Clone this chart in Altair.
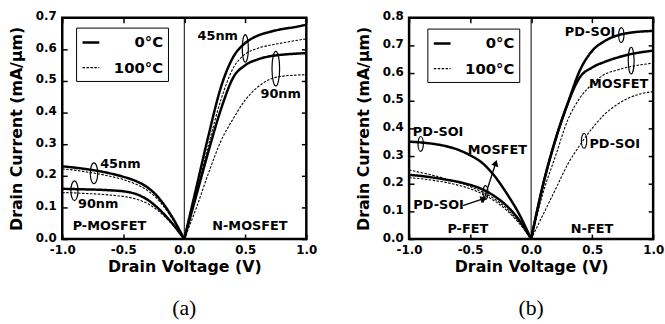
import altair as alt
import pandas as pd

FONT = "DejaVu Sans"
SERIF = "Liberation Serif"

# ---------------- data ----------------
V_P = [-1.0, -0.9, -0.8, -0.7, -0.6, -0.5, -0.4, -0.3, -0.2, -0.1, 0.0]
V_N = [0.0, 0.1, 0.2, 0.3, 0.4, 0.5, 0.6, 0.7, 0.8, 0.9, 1.0]
TEMPS = ["0°C", "100°C"]
X_TICKS = [-1.0, -0.5, 0.0, 0.5, 1.0]
A_Y_TICKS = [0.0, 0.1, 0.2, 0.3, 0.4, 0.5, 0.6, 0.7]
B_Y_TICKS = [0.0, 0.1, 0.2, 0.3, 0.4, 0.5, 0.6, 0.7, 0.8]

# panel (a): 45nm / 90nm bulk MOSFETs
A_P45_0 = [0.230, 0.226, 0.221, 0.215, 0.207, 0.197, 0.184, 0.163, 0.126, 0.070, 0.0]
A_P45_100 = [0.222, 0.218, 0.212, 0.206, 0.198, 0.188, 0.174, 0.153, 0.118, 0.065, 0.0]
A_P90_0 = [0.159, 0.158, 0.157, 0.156, 0.154, 0.151, 0.143, 0.124, 0.092, 0.050, 0.0]
A_P90_100 = [0.147, 0.146, 0.144, 0.142, 0.139, 0.135, 0.127, 0.112, 0.085, 0.047, 0.0]
A_N45_0 = [0.0, 0.165, 0.33, 0.48, 0.575, 0.62, 0.643, 0.655, 0.664, 0.670, 0.678]
A_N45_100 = [0.0, 0.15, 0.30, 0.44, 0.54, 0.585, 0.603, 0.613, 0.620, 0.627, 0.633]
A_N90_0 = [0.0, 0.14, 0.28, 0.41, 0.51, 0.55, 0.568, 0.578, 0.583, 0.586, 0.588]
A_N90_100 = [0.0, 0.10, 0.21, 0.31, 0.38, 0.44, 0.48, 0.505, 0.515, 0.518, 0.520]

# panel (b): PD-SOI vs MOSFET
B_P_SOI_0 = [0.352, 0.349, 0.344, 0.336, 0.323, 0.303, 0.275, 0.228, 0.165, 0.092, 0.0]
B_P_MOS_0 = [0.232, 0.228, 0.222, 0.215, 0.207, 0.196, 0.180, 0.155, 0.120, 0.070, 0.0]
B_P_MOS_100 = [0.250, 0.240, 0.230, 0.218, 0.205, 0.190, 0.170, 0.145, 0.110, 0.062, 0.0]
B_P_SOI_100 = [0.222, 0.218, 0.212, 0.205, 0.195, 0.182, 0.163, 0.138, 0.104, 0.058, 0.0]
B_N_SOI_0 = [0.0, 0.20, 0.36, 0.49, 0.61, 0.68, 0.715, 0.735, 0.745, 0.750, 0.752]
B_N_MOS_0 = [0.0, 0.20, 0.36, 0.49, 0.585, 0.62, 0.640, 0.655, 0.667, 0.675, 0.681]
B_N_MOS_100 = [0.0, 0.17, 0.30, 0.43, 0.51, 0.56, 0.595, 0.610, 0.622, 0.630, 0.636]
B_N_SOI_100 = [0.0, 0.09, 0.18, 0.27, 0.34, 0.40, 0.450, 0.485, 0.510, 0.525, 0.533]

# annotations (a)
A_TXT = ["45nm", "90nm", "45nm", "90nm", "P-MOSFET", "N-MOSFET"]
A_TXT_X = [0.274, 0.79, -0.524, -0.706, -0.613, 0.538]
A_TXT_Y = [0.641, 0.459, 0.238, 0.110, 0.040, 0.040]
A_ELL_X = [0.50, 0.75, -0.74, -0.90]
A_ELL_Y = [0.603, 0.539, 0.208, 0.153]
A_ELL_H = [28, 35, 21, 20]
A_ELL_K = ["n", "n", "w", "w"]

# annotations (b)
B_TXT = ["PD-SOI", "MOSFET", "PD-SOI", "N-FET", "P-FET", "PD-SOI", "MOSFET", "PD-SOI"]
B_TXT_X = [0.483, 0.717, 0.685, 0.499, -0.519, -0.762, -0.277, -0.758]
B_TXT_Y = [0.748, 0.561, 0.344, 0.035, 0.035, 0.388, 0.3225, 0.1225]
B_ELL_X = [0.739, 0.82, 0.434, -0.905, -0.374]
B_ELL_Y = [0.7375, 0.645, 0.355, 0.344, 0.168]
B_ELL_H = [15, 27, 15, 15, 14]
B_ELL_K = ["w", "n", "w", "w", "w"]
B_ARR_X = [-0.394, -0.559]
B_ARR_Y = [0.132, 0.121]
B_ARR_X2 = [-0.29, -0.389]
B_ARR_Y2 = [0.275, 0.146]
B_ARR_ANG = [18, 72]

# ---------------- helpers ----------------
ELL_N = "M 0,-1 A 0.22,1 0 1,1 0,1 A 0.22,1 0 1,1 0,-1 Z"
ELL_W = "M 0,-1 A 0.36,1 0 1,1 0,1 A 0.36,1 0 1,1 0,-1 Z"
LABEL_EXPR = "replace(format(datum.value, '.1f'), '\u2212', '-')"


def lines_df(series):
    rows = []
    for name, temp, xs, ys in series:
        for v, i in zip(xs, ys):
            rows.append({"series": name, "temp": temp, "V": v, "I": i})
    return pd.DataFrame(rows)


def panel(series, txt, txt_x, txt_y, ell_x, ell_y, ell_h, ell_k, ymax, yticks,
          leg_x, leg_y, caption, arrows=None):
    xs = alt.Scale(domain=[-1, 1], nice=False, zero=False)
    ys = alt.Scale(domain=[0, ymax], nice=False)
    legend = alt.Legend(
        orient="none", legendX=leg_x, legendY=leg_y, title=None,
        direction="vertical", strokeColor="black", fillColor="white",
        padding=5, rowPadding=8, symbolType="stroke", symbolSize=289,
        symbolStrokeColor="black", labelFont=FONT, labelFontSize=15,
        labelFontWeight="bold", labelColor="black", labelOffset=63,
        labelAlign="right",
    )
    lines = alt.Chart(lines_df(series)).mark_line(
        interpolate="monotone", color="black"
    ).encode(
        x=alt.X("V:Q", scale=xs, axis=alt.Axis(
            orient="bottom", values=X_TICKS, offset=-5, tickSize=5,
            domain=False, grid=False, labelExpr=LABEL_EXPR, labelPadding=5.5,
            labelFlush=False, title="Drain Voltage (V)", titlePadding=3)),
        y=alt.Y("I:Q", scale=ys, axis=alt.Axis(
            orient="left", values=yticks, offset=-5, tickSize=5,
            domain=False, grid=False, format=".1f", labelPadding=6,
            labelOffset=-2,
            labelFlush=False, title="Drain Current (mA/μm)", titlePadding=11)),
        detail="series:N",
        strokeDash=alt.StrokeDash("temp:N", scale=alt.Scale(
            domain=TEMPS, range=[[1, 0], [2.5, 1.5]]), legend=legend),
        strokeWidth=alt.StrokeWidth("temp:N", scale=alt.Scale(
            domain=TEMPS, range=[2.5, 1.1]), legend=legend),
    )
    zero = alt.Chart(pd.DataFrame({"V": [0.0]})).mark_rule(
        color="black", strokeWidth=1
    ).encode(
        x=alt.X("V:Q", scale=xs, axis=alt.Axis(
            orient="top", values=X_TICKS, offset=-5, tickSize=5,
            domain=False, grid=False, labels=False, title=None)),
    )
    text = alt.Chart(pd.DataFrame({"t": txt, "x": txt_x, "y": txt_y})).mark_text(
        font=FONT, fontWeight="bold", fontSize=13, color="black",
        align="center", baseline="middle"
    ).encode(
        x=alt.X("x:Q", scale=xs, axis=None),
        y=alt.Y("y:Q", scale=ys, axis=alt.Axis(
            orient="right", values=yticks, offset=-5, tickSize=5,
            domain=False, grid=False, labels=False, title=None)),
        text="t:N",
    )
    ell = alt.Chart(pd.DataFrame({"x": ell_x, "y": ell_y,
                                  "s": [h * h for h in ell_h], "k": ell_k})).mark_point(
        filled=False, stroke="black", strokeWidth=1.2, opacity=1
    ).encode(
        x=alt.X("x:Q", scale=xs, axis=None),
        y=alt.Y("y:Q", scale=ys, axis=None),
        size=alt.Size("s:Q", scale=None),
        shape=alt.Shape("k:N", scale=alt.Scale(domain=["n", "w"], range=[ELL_N, ELL_W]),
                        legend=None),
    )
    layers = [lines, zero, text, ell]
    if arrows is not None:
        adf = pd.DataFrame(arrows)
        shaft = alt.Chart(adf).mark_rule(color="black", strokeWidth=1.3).encode(
            x=alt.X("x:Q", scale=xs, axis=None),
            y=alt.Y("y:Q", scale=ys, axis=None),
            x2="x2:Q", y2="y2:Q",
        )
        head = alt.Chart(adf).mark_point(
            shape="triangle-up", filled=True, color="black", size=55, opacity=1
        ).encode(
            x=alt.X("x2:Q", scale=xs, axis=None),
            y=alt.Y("y2:Q", scale=ys, axis=None),
            angle=alt.Angle("a:Q", scale=None),
        )
        layers += [shaft, head]
    return alt.layer(*layers).resolve_axis(
        x="independent", y="independent"
    ).properties(
        width=247, height=224,
        title=alt.TitleParams(caption, orient="bottom", anchor="middle",
                              font=SERIF, fontSize=22, fontWeight="normal",
                              color="black", offset=24, baseline="top"),
    )


series_a = [
    ("p45_0", "0°C", V_P, A_P45_0), ("p45_100", "100°C", V_P, A_P45_100),
    ("p90_0", "0°C", V_P, A_P90_0), ("p90_100", "100°C", V_P, A_P90_100),
    ("n45_0", "0°C", V_N, A_N45_0), ("n45_100", "100°C", V_N, A_N45_100),
    ("n90_0", "0°C", V_N, A_N90_0), ("n90_100", "100°C", V_N, A_N90_100),
]
series_b = [
    ("psoi_0", "0°C", V_P, B_P_SOI_0), ("pmos_0", "0°C", V_P, B_P_MOS_0),
    ("pmos_100", "100°C", V_P, B_P_MOS_100), ("psoi_100", "100°C", V_P, B_P_SOI_100),
    ("nsoi_0", "0°C", V_N, B_N_SOI_0), ("nmos_0", "0°C", V_N, B_N_MOS_0),
    ("nmos_100", "100°C", V_N, B_N_MOS_100), ("nsoi_100", "100°C", V_N, B_N_SOI_100),
]

pa = panel(series_a, A_TXT, A_TXT_X, A_TXT_Y, A_ELL_X, A_ELL_Y, A_ELL_H, A_ELL_K,
           0.7, A_Y_TICKS, 14, 10, "(a)")
pb = panel(series_b, B_TXT, B_TXT_X, B_TXT_Y, B_ELL_X, B_ELL_Y, B_ELL_H, B_ELL_K,
           0.8, B_Y_TICKS, 18.5, 11, "(b)",
           arrows={"x": B_ARR_X, "y": B_ARR_Y, "x2": B_ARR_X2, "y2": B_ARR_Y2,
                   "a": B_ARR_ANG})

chart = alt.hconcat(pa, pb, spacing=36).resolve_scale(
    strokeDash="independent", strokeWidth="independent"
).resolve_legend(
    strokeDash="independent", strokeWidth="independent"
).properties(
    padding={"left": 7, "top": 6, "right": 0, "bottom": 0},
    background="white",
).configure_view(
    stroke="black", strokeWidth=2.5
).configure_axis(
    labelFont=FONT, labelFontSize=12, labelFontWeight="bold", labelColor="black",
    titleFont=FONT, titleFontSize=16, titleFontWeight="bold", titleColor="black",
    tickColor="black", tickWidth=1.5,
)

chart.save("out.html", embed_options={"renderer": "svg", "actions": False})
